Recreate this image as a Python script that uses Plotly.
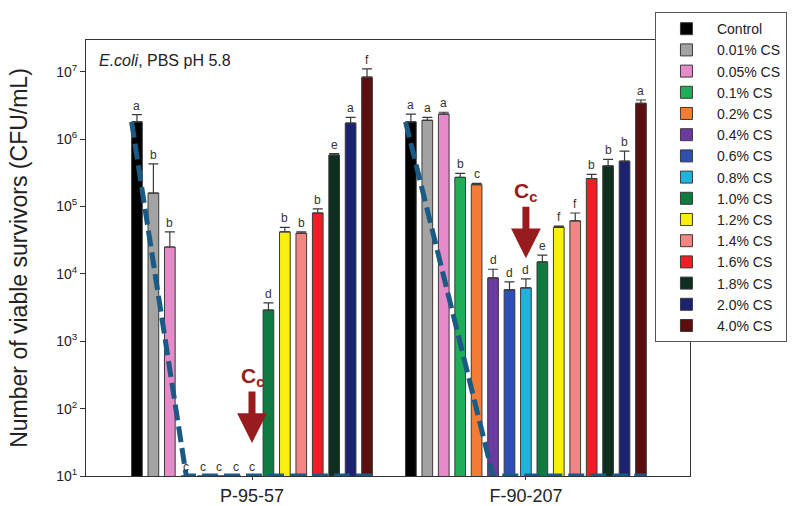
import numpy as np
import plotly.graph_objects as go

# ---------------- data ----------------
strains = ["P-95-57", "F-90-207"]
concentrations = ["Control", "0.01% CS", "0.05% CS", "0.1% CS", "0.2% CS", "0.4% CS",
                  "0.6% CS", "0.8% CS", "1.0% CS", "1.2% CS", "1.4% CS", "1.6% CS",
                  "1.8% CS", "2.0% CS", "4.0% CS"]
p95_mean = [1.8e6, 1.58e5, 2.5e4, 10, 10, 10, 10, 10, 2.9e3, 4.2e4, 4.0e4, 8.0e4, 5.8e5, 1.73e6, 8.3e6]
p95_err = [5.0e5, 2.7e5, 1.7e4, 0, 0, 0, 0, 0, 8.0e2, 7.0e3, 2.0e3, 1.2e4, 3.0e4, 3.7e5, 2.7e6]
f90_mean = [1.8e6, 1.9e6, 2.35e6, 2.7e5, 2.1e5, 8.7e3, 5.8e3, 6.2e3, 1.5e4, 4.9e4, 6.1e4, 2.6e5, 4.0e5, 4.7e5, 3.4e6]
f90_err = [5.5e5, 2.0e5, 1.5e5, 4.0e4, 1.0e4, 3.0e3, 1.8e3, 2.2e3, 4.0e3, 2.0e3, 1.9e4, 4.0e4, 1.0e5, 1.9e5, 4.0e5]
p95_letters = ["a", "b", "b", "c", "c", "c", "c", "c", "d", "b", "b", "b", "e", "a", "f"]
f90_letters = ["a", "a", "a", "b", "c", "d", "d", "d", "e", "f", "f", "b", "b", "b", "a"]
detection_limit = 10
trend_floor_index = [3, 5]      # concentration index where the trend reaches the detection limit
cc_index = 7                    # critical concentration (0.8% CS)
cc_arrow_tip = [31, 1.7e4]      # arrow tip heights
y_tickvals = [1e1, 1e2, 1e3, 1e4, 1e5, 1e6, 1e7]
y_ticktext = ["10<sup>1</sup>", "10<sup>2</sup>", "10<sup>3</sup>", "10<sup>4</sup>",
              "10<sup>5</sup>", "10<sup>6</sup>", "10<sup>7</sup>"]

colors = ["#000000", "#A3A3A3", "#E68BC9", "#1FAE58", "#F57C35", "#6A3B9E",
          "#2F4FB3", "#1FB5DA", "#0F7B40", "#F8EE10", "#F38584", "#EE1D26",
          "#0E2F20", "#1B226F", "#5A0E0E"]

means = [p95_mean, f90_mean]
errs = [p95_err, f90_err]
letters = [p95_letters, f90_letters]

slot = 0.06
bar_w = 0.039
n = len(concentrations)


def xpos(g, i):
    return g + (i - (n - 1) / 2) * slot


fig = go.Figure()
for i, name in enumerate(concentrations):
    fig.add_trace(go.Bar(
        x=[xpos(g, i) for g in range(len(strains))],
        y=[means[g][i] for g in range(len(strains))],
        width=bar_w,
        name=name,
        marker=dict(color=colors[i], line=dict(color="#3a3a3a", width=1)),
        error_y=dict(type="data", symmetric=False,
                     array=[errs[g][i] for g in range(len(strains))],
                     arrayminus=[0, 0], color="#3a3a3a", thickness=1.2, width=5),
    ))

# trend lines (dashed)
for g in range(len(strains)):
    k = trend_floor_index[g]
    tx = [xpos(g, 0) - bar_w / 2, xpos(g, k), xpos(g, n - 1) + bar_w / 2]
    ty = [means[g][0], detection_limit, detection_limit]
    fig.add_trace(go.Scatter(x=tx, y=ty, mode="lines", showlegend=False,
                             line=dict(color="#1B5A84", width=5, dash="16px,6px"),
                             hoverinfo="skip"))

annotations = []
for g in range(len(strains)):
    for i in range(n):
        top = means[g][i] + errs[g][i]
        annotations.append(dict(x=xpos(g, i), y=np.log10(top), text=letters[g][i],
                                showarrow=False, yanchor="bottom", yshift=0,
                                font=dict(size=12, color="#333333")))
    annotations.append(dict(x=xpos(g, cc_index), y=np.log10(cc_arrow_tip[g]),
                            text="<b>C<sub>c</sub></b>", showarrow=True,
                            ax=0, ay=-66, arrowhead=2, arrowsize=0.85, arrowwidth=7,
                            arrowcolor="#981B1E", standoff=0,
                            font=dict(size=21, color="#981B1E")))

annotations.append(dict(xref="paper", yref="paper", x=0.018, y=0.954, xanchor="left",
                        yanchor="middle", showarrow=False,
                        text="<i>E.coli</i>, PBS pH 5.8",
                        font=dict(size=16, color="#222222")))

fig.update_layout(
    width=793, height=506,
    margin=dict(l=86, r=103, t=40, b=30, autoexpand=False),
    paper_bgcolor="white", plot_bgcolor="white",
    barmode="overlay",
    font=dict(family="Arial, Liberation Sans, sans-serif", color="#222222"),
    showlegend=True,
    legend=dict(x=0.942, y=1.064, xanchor="left", yanchor="top",
                bordercolor="#555555", borderwidth=1, bgcolor="white",
                font=dict(size=14, color="#222222"), itemwidth=51,
                traceorder="normal", maxheight=480),
    annotations=annotations,
)
fig.update_xaxes(range=[-0.606, 1.599], tickvals=list(range(len(strains))), ticktext=strains,
                 ticks="outside", ticklen=3, tickcolor="#333333", automargin=False,
                 showline=True, linecolor="#333333", linewidth=1, mirror=True,
                 showgrid=False, zeroline=False, tickfont=dict(size=18, color="#222222"))
fig.update_yaxes(type="log", range=[1, 7.47], tickvals=y_tickvals, ticktext=y_ticktext,
                 ticks="outside", ticklen=5, tickcolor="#333333", automargin=False,
                 showline=True, linecolor="#333333", linewidth=1, mirror=True,
                 showgrid=False, zeroline=False, tickfont=dict(size=14, color="#222222"),
                 title=dict(text="Number of viable survivors (CFU/mL)",
                            font=dict(size=23, color="#222222"), standoff=22))

fig.write_html("out.html")
